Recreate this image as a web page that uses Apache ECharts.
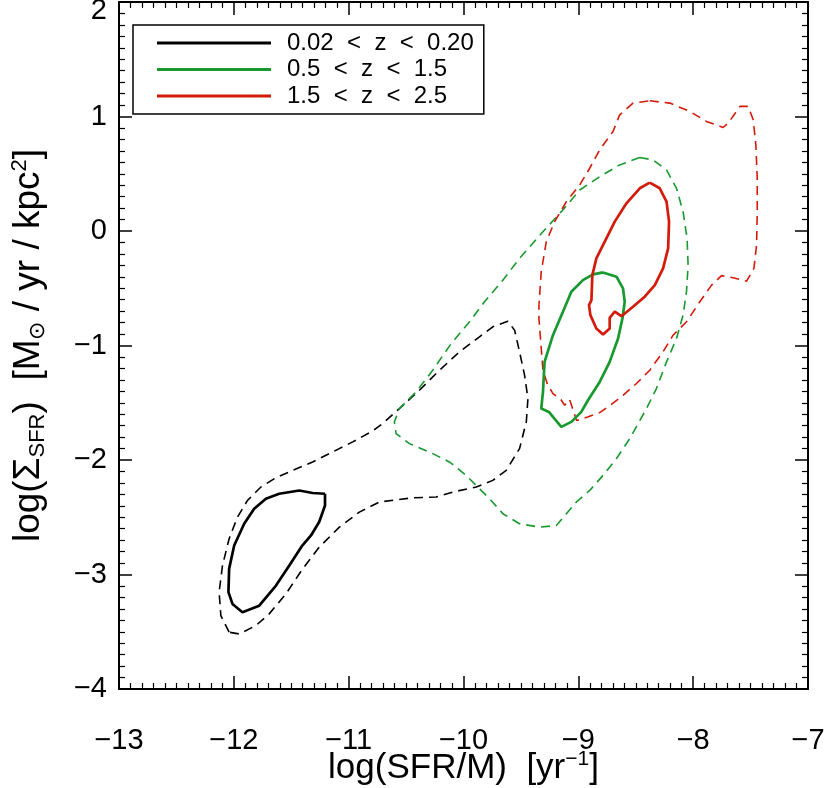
<!DOCTYPE html>
<html>
<head>
<meta charset="utf-8">
<script src="https://cdn.jsdelivr.net/npm/echarts@6/dist/echarts.min.js"></script>
<style>
html,body{margin:0;padding:0;background:#fff;}
#chart{width:830px;height:788px;}
</style>
</head>
<body>
<div id="chart"></div>
<script>
// ---- data (contour vertices, log(SFR/M) vs log(Sigma_SFR)) ----
const legendLabels = ['0.02  <  z  <  0.20', '0.5  <  z  <  1.5', '1.5  <  z  <  2.5'];
const xTicks = [-13, -12, -11, -10, -9, -8, -7];
const yTicks = [-4, -3, -2, -1, 0, 1, 2];

// 0.02<z<0.20 inner (solid) contour
const lowZInner = [
  [-11.206,-2.295],[-11.206,-2.397],[-11.256,-2.539],[-11.328,-2.659],[-11.404,-2.747],
  [-11.517,-2.922],[-11.633,-3.097],[-11.779,-3.272],[-11.925,-3.329],[-12.012,-3.257],
  [-12.047,-3.154],[-12.041,-2.951],[-11.997,-2.747],[-11.910,-2.557],[-11.823,-2.426],
  [-11.721,-2.338],[-11.605,-2.295],[-11.430,-2.266],[-11.314,-2.288],[-11.206,-2.295]
];
// 0.02<z<0.20 outer (dashed) contour
const lowZOuter = [
  [-12.041,-3.504],[-12.113,-3.359],[-12.128,-3.154],[-12.099,-2.922],[-12.041,-2.688],
  [-11.968,-2.498],[-11.881,-2.353],[-11.764,-2.236],[-11.633,-2.155],[-11.489,-2.091],
  [-11.314,-2.017],[-11.140,-1.930],[-10.965,-1.842],[-10.791,-1.746],[-10.704,-1.682],
  [-10.558,-1.551],[-10.384,-1.391],[-10.209,-1.216],[-10.035,-1.055],[-9.861,-0.924],
  [-9.745,-0.837],[-9.614,-0.788],[-9.555,-0.866],[-9.512,-1.055],[-9.468,-1.260],
  [-9.439,-1.464],[-9.453,-1.667],[-9.512,-1.901],[-9.628,-2.091],[-9.745,-2.178],
  [-9.889,-2.236],[-10.093,-2.280],[-10.238,-2.323],[-10.442,-2.330],[-10.733,-2.367],
  [-10.907,-2.455],[-11.081,-2.586],[-11.256,-2.761],[-11.401,-2.951],[-11.546,-3.169],
  [-11.692,-3.344],[-11.808,-3.446],[-11.953,-3.519],[-12.041,-3.504]
];
// 0.5<z<1.5 inner (solid)
const midZInner = [
  [-8.785,-0.362],[-8.668,-0.399],[-8.611,-0.501],[-8.596,-0.618],[-8.616,-0.764],
  [-8.654,-0.939],[-8.727,-1.143],[-8.814,-1.318],[-8.916,-1.478],[-8.974,-1.580],
  [-9.061,-1.667],[-9.148,-1.711],[-9.221,-1.624],[-9.256,-1.580],[-9.323,-1.551],
  [-9.308,-1.405],[-9.294,-1.143],[-9.221,-0.910],[-9.134,-0.705],[-9.061,-0.530],
  [-8.960,-0.429],[-8.872,-0.379],[-8.785,-0.362]
];
// 0.5<z<1.5 outer (dashed)
const midZOuter = [
  [-8.465,0.642],[-8.349,0.621],[-8.232,0.533],[-8.145,0.373],[-8.088,0.169],
  [-8.053,-0.064],[-8.044,-0.298],[-8.058,-0.530],[-8.088,-0.735],[-8.145,-0.939],
  [-8.232,-1.143],[-8.320,-1.376],[-8.407,-1.551],[-8.552,-1.813],[-8.668,-1.988],
  [-8.785,-2.134],[-8.901,-2.266],[-9.017,-2.367],[-9.104,-2.469],[-9.192,-2.572],
  [-9.337,-2.586],[-9.512,-2.557],[-9.657,-2.469],[-9.773,-2.338],[-9.861,-2.251],
  [-9.977,-2.134],[-10.122,-2.017],[-10.297,-1.930],[-10.471,-1.857],[-10.587,-1.770],
  [-10.602,-1.667],[-10.558,-1.551],[-10.413,-1.405],[-10.268,-1.216],[-10.107,-0.983],
  [-9.948,-0.793],[-9.817,-0.618],[-9.657,-0.429],[-9.512,-0.239],[-9.308,-0.006],
  [-9.148,0.169],[-8.988,0.358],[-8.814,0.475],[-8.640,0.577],[-8.465,0.642]
];
// 1.5<z<2.5 inner (solid)
const highZInner = [
  [-8.378,0.423],[-8.291,0.373],[-8.232,0.257],[-8.210,0.082],[-8.218,-0.152],
  [-8.262,-0.327],[-8.334,-0.473],[-8.422,-0.574],[-8.524,-0.662],[-8.625,-0.744],
  [-8.683,-0.705],[-8.727,-0.758],[-8.727,-0.851],[-8.785,-0.904],[-8.843,-0.851],
  [-8.895,-0.735],[-8.907,-0.648],[-8.886,-0.604],[-8.878,-0.385],[-8.843,-0.239],
  [-8.770,-0.093],[-8.683,0.082],[-8.581,0.242],[-8.465,0.373],[-8.378,0.423]
];
// 1.5<z<2.5 outer (dashed)
const highZOuter = [
  [-8.378,1.137],[-8.204,1.117],[-8.029,1.044],[-7.884,0.957],[-7.739,0.904],
  [-7.695,0.942],[-7.593,1.088],[-7.521,1.088],[-7.477,0.971],[-7.454,0.752],
  [-7.442,0.461],[-7.442,0.169],[-7.448,-0.123],[-7.471,-0.327],[-7.535,-0.438],
  [-7.652,-0.408],[-7.753,-0.390],[-7.840,-0.473],[-7.942,-0.618],[-8.058,-0.793],
  [-8.175,-0.910],[-8.262,-1.055],[-8.378,-1.216],[-8.494,-1.332],[-8.611,-1.435],
  [-8.727,-1.525],[-8.814,-1.586],[-8.919,-1.624],[-9.015,-1.656],[-9.050,-1.551],
  [-9.076,-1.472],[-9.119,-1.522],[-9.148,-1.478],[-9.221,-1.420],[-9.268,-1.341],
  [-9.308,-1.216],[-9.323,-1.026],[-9.343,-0.764],[-9.343,-0.648],[-9.323,-0.355],
  [-9.279,-0.093],[-9.206,0.082],[-9.104,0.257],[-8.988,0.402],[-8.901,0.548],
  [-8.814,0.708],[-8.698,0.869],[-8.640,1.014],[-8.524,1.117],[-8.378,1.137]
];

const colors = ['#000000', '#17992f', '#d41a0a'];
const FONT = 'Liberation Sans';

const chart = echarts.init(document.getElementById('chart'), null, {renderer: 'canvas'});

function solid(name, data, color) {
  return {name, type: 'line', data, xAxisIndex: 0, yAxisIndex: 0, symbol: 'none',
    smooth: false, lineStyle: {color, width: 2.7}, itemStyle: {color}, z: 3, silent: true};
}
function dashed(name, data, color) {
  return {name, type: 'line', data, xAxisIndex: 0, yAxisIndex: 0, symbol: 'none',
    smooth: false, lineStyle: {color, width: 1.6, type: [9, 6]}, itemStyle: {color}, z: 2, silent: true};
}

const axisCommon = {
  type: 'value', interval: 1,
  axisLine: {show: true, onZero: false, lineStyle: {color: '#000', width: 2}},
  axisTick: {show: true, inside: true, length: 13, lineStyle: {color: '#000', width: 1.5}},
  minorTick: {show: true, splitNumber: 10, length: 6, lineStyle: {color: '#000', width: 1.2}},
  splitLine: {show: false}, minorSplitLine: {show: false}
};

const fmt = v => {
  const s = Math.round(v).toString();
  return v < 0 ? '\u2212' + s.slice(1) : s;
};

const option = {
  backgroundColor: '#fff',
  animation: false,
  textStyle: {fontFamily: FONT, color: '#000'},
  grid: {left: 119, right: 22, top: 2, bottom: 99, containLabel: false, outerBoundsMode: 'none'},
  legend: {
    show: true, orient: 'vertical', left: 133, top: 25,
    data: legendLabels,
    icon: 'rect', itemWidth: 114, itemHeight: 3, itemGap: 2.5,
    borderColor: '#000', borderWidth: 1.5, borderRadius: 0,
    padding: [6, 10, 6, 24], backgroundColor: '#fff',
    textStyle: {fontFamily: FONT, fontSize: 24, color: '#000', lineHeight: 23, padding: [0, 0, 0, 11]},
    selectedMode: false
  },
  xAxis: [
    Object.assign({}, axisCommon, {
      min: xTicks[0], max: xTicks[xTicks.length - 1], position: 'bottom',
      axisLabel: {show: true, margin: 37, fontSize: 29, color: '#000', fontFamily: FONT, formatter: fmt},
      name: '{n|log(SFR/M)  [yr}{sup|\u22121}{n|]}',
      nameLocation: 'middle', nameGap: 60, nameMoveOverlap: false,
      nameTextStyle: {
        rich: {
          n: {fontSize: 35, fontFamily: FONT, color: '#000', lineHeight: 38},
          sup: {fontSize: 21, fontFamily: FONT, color: '#000', lineHeight: 21, verticalAlign: 'top'}
        }
      }
    }),
    Object.assign({}, axisCommon, {
      min: xTicks[0], max: xTicks[xTicks.length - 1], position: 'top',
      axisLabel: {show: false}
    })
  ],
  yAxis: [
    Object.assign({}, axisCommon, {
      min: yTicks[0], max: yTicks[yTicks.length - 1], position: 'left',
      axisLabel: {show: true, margin: 12, fontSize: 29, color: '#000', fontFamily: FONT,
        formatter: v => (v === yTicks[yTicks.length - 1] ? '{t|' + fmt(v) + '}' : fmt(v)),
        rich: {t: {fontSize: 29, fontFamily: FONT, color: '#000', padding: [18, 0, 0, 0]}}
      },
      name: '{n|log(\u03A3}{sub|SFR}{n|)  [M}{sub|\u2299}{n| / yr / kpc}{sup|2}{n|]}',
      nameLocation: 'middle', nameGap: 70, nameRotate: 90,
      nameTextStyle: {
        rich: {
          n: {fontSize: 37, fontFamily: FONT, color: '#000', lineHeight: 40},
          sub: {fontSize: 22, fontFamily: FONT, color: '#000', lineHeight: 22, verticalAlign: 'bottom'},
          sup: {fontSize: 22, fontFamily: FONT, color: '#000', lineHeight: 22, verticalAlign: 'top'}
        }
      }
    }),
    Object.assign({}, axisCommon, {
      min: yTicks[0], max: yTicks[yTicks.length - 1], position: 'right',
      axisLabel: {show: false}
    })
  ],
  series: [
    solid(legendLabels[0], lowZInner, colors[0]),
    solid(legendLabels[1], midZInner, colors[1]),
    solid(legendLabels[2], highZInner, colors[2]),
    dashed(legendLabels[0] + ' outer', lowZOuter, colors[0]),
    dashed(legendLabels[1] + ' outer', midZOuter, colors[1]),
    dashed(legendLabels[2] + ' outer', highZOuter, colors[2])
  ]
};

chart.setOption(option);
</script>
</body>
</html>
